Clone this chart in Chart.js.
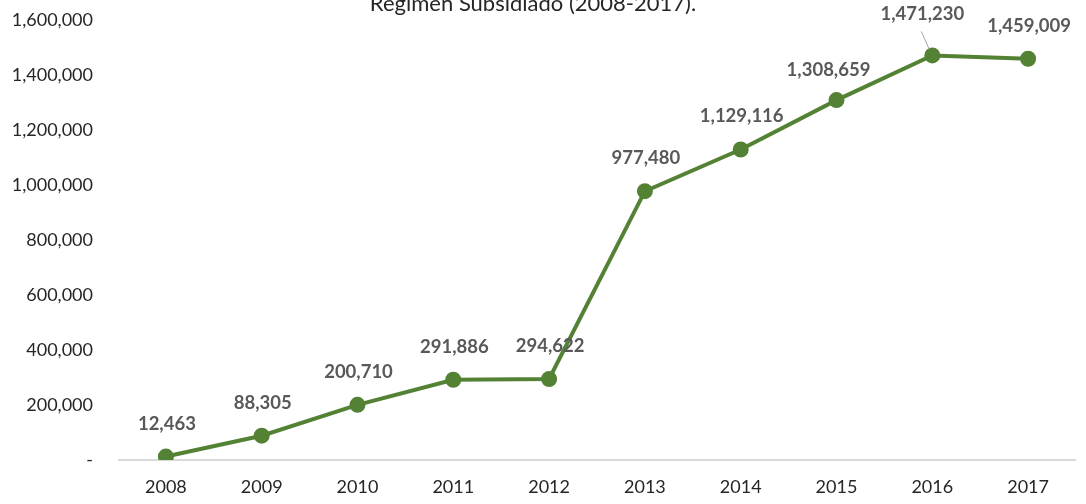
<!DOCTYPE html>
<html lang="es">
<head>
    <meta charset="UTF-8">
    <title>Regimen Subsidiado (2008-2017)</title>
    <script src="https://cdn.jsdelivr.net/npm/chart.js"></script>
    <style>
        body {
            margin: 0;
            background: #ffffff;
        }
        .wrap {
            width: 1086px;
            height: 504px;
        }
    </style>
</head>
<body>
    <div class="wrap"><canvas id="chart"></canvas></div>

    <script>
        const years = ["2008", "2009", "2010", "2011", "2012", "2013", "2014", "2015", "2016", "2017"];
        const afiliados = [12463, 88305, 200710, 291886, 294622, 977480, 1129116, 1308659, 1471230, 1459009];
        const yTicks = [0, 200000, 400000, 600000, 800000, 1000000, 1200000, 1400000, 1600000];

        const fontFamily = "Lato, 'Open Sans', sans-serif";
        const green = "#548235";

        // title is partly cut off at the top in the original
        const titlePlugin = {
            id: 'cutTitle',
            afterDraw(chart) {
                const c = chart.ctx;
                c.save();
                c.font = "22px " + fontFamily;
                c.fillStyle = "#262626";
                c.textAlign = "center";
                c.textBaseline = "alphabetic";
                c.fillText("Regimen Subsidiado (2008-2017).", 533, 11);
                c.restore();
            }
        };

        // data labels above each point
        const labelPlugin = {
            id: 'valueLabels',
            afterDatasetsDraw(chart) {
                const c = chart.ctx;
                const meta = chart.getDatasetMeta(0);
                const shifts = { 7: [-8, 3], 8: [-10, -8] };
                c.save();
                c.font = "bold 18.5px " + fontFamily;
                c.fillStyle = "#595959";
                c.textAlign = "center";
                c.textBaseline = "middle";
                meta.data.forEach((pt, i) => {
                    const s = shifts[i] || [1, 0];
                    const x = pt.x + s[0];
                    const y = pt.y - 33 + s[1];
                    if (i === 8) {
                        c.strokeStyle = "#a6a6a6";
                        c.lineWidth = 1;
                        c.beginPath();
                        c.moveTo(pt.x - 11, pt.y - 24);
                        c.lineTo(pt.x - 3, pt.y - 6);
                        c.stroke();
                    }
                    c.fillText(afiliados[i].toLocaleString('en-US'), x, y);
                });
                c.restore();
            }
        };

        new Chart(document.getElementById('chart'), {
            type: 'line',
            data: {
                labels: years,
                datasets: [{
                    data: afiliados,
                    borderColor: green,
                    backgroundColor: green,
                    borderWidth: 4,
                    pointRadius: 6,
                    pointBackgroundColor: green,
                    pointBorderColor: green,
                    tension: 0
                }]
            },
            options: {
                responsive: true,
                maintainAspectRatio: false,
                animation: false,
                layout: { padding: { top: 20, right: 0, left: 0, bottom: 0 } },
                plugins: {
                    legend: { display: false },
                    tooltip: { enabled: false }
                },
                scales: {
                    x: {
                        offset: true,
                        grid: { display: false, drawTicks: false },
                        border: { display: false },
                        ticks: {
                            color: "#262626",
                            font: { family: fontFamily, size: 18 },
                            padding: 16
                        },
                        afterFit(scale) { scale.height = 44; }
                    },
                    y: {
                        min: 0,
                        max: 1600000,
                        afterBuildTicks(scale) {
                            scale.ticks = yTicks.map(v => ({ value: v }));
                        },
                        grid: {
                            drawTicks: false,
                            color: ctx => ctx.tick && ctx.tick.value === 0 ? "#d9d9d9" : "rgba(0,0,0,0)",
                            lineWidth: 2
                        },
                        border: { display: false },
                        ticks: {
                            color: "#262626",
                            font: { family: fontFamily, size: 18 },
                            padding: 25,
                            callback: v => v === 0 ? "-" : v.toLocaleString('en-US')
                        },
                        afterFit(scale) {
                            scale.width = 118;
                            scale.paddingTop = 0;
                            scale.paddingBottom = 0;
                        }
                    }
                }
            },
            plugins: [titlePlugin, labelPlugin]
        });
    </script>
</body>
</html>
